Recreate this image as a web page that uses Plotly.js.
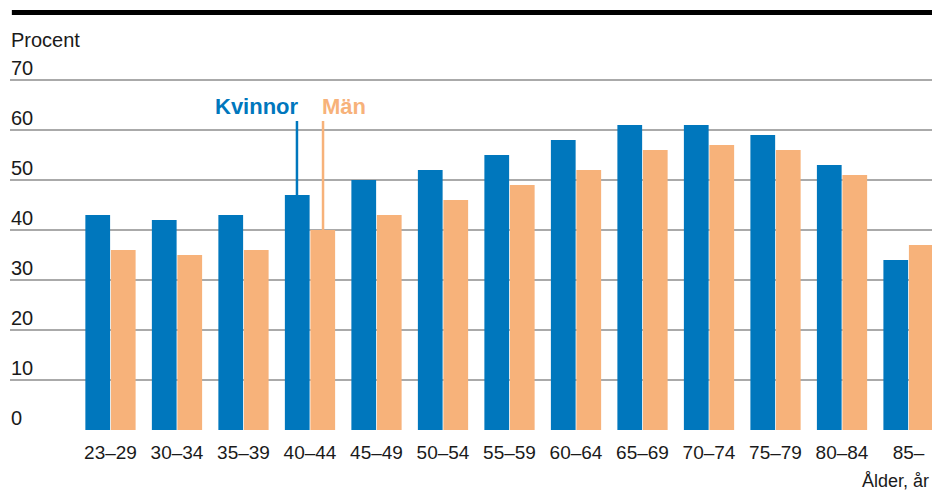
<!DOCTYPE html>
<html><head><meta charset="utf-8">
<script src="https://cdn.plot.ly/plotly-3.0.1.min.js"></script>
<style>body{margin:0;padding:0;background:#fff}#chart{width:932px;height:493px}</style>
</head><body><div id="chart"></div>
<script>
const categories = ["23–29","30–34","35–39","40–44","45–49","50–54","55–59","60–64","65–69","70–74","75–79","80–84","85–"];
const kvinnor = [43,42,43,47,50,52,55,58,61,61,59,53,34];
const man = [36,35,36,40,43,46,49,52,56,57,56,51,37];
const yTicks = [0,10,20,30,40,50,60,70];
const yTickLabels = ["0","10","20","30","40","50","60","70"];
const seriesNames = ["Kvinnor","Män"];
const colors = ["#0077bd","#f7b27a"];
const font = "Liberation Sans, Arial, sans-serif";

const labelIdx = categories.indexOf("40–44");
const off = 0.196;
const idx = categories.map((c,i)=>i);

const traces = [
  {type:"bar", x: idx, y: kvinnor, name: seriesNames[0], marker:{color:colors[0]}, hoverinfo:"skip"},
  {type:"bar", x: idx, y: man, name: seriesNames[1], marker:{color:colors[1]}, hoverinfo:"skip"}
];

const yLabelAnns = yTicks.map((v,i)=>({
  text: yTickLabels[i], xref:"paper", yref:"y", x:0, y:v, xanchor:"left", yanchor:"bottom",
  showarrow:false, xshift:-1, yshift:-1, font:{size:20, color:"#1a1a1a"}
}));

const layout = {
  width: 932, height: 493,
  margin: {l:10, r:0, t:76, b:63},
  paper_bgcolor:"#fff", plot_bgcolor:"#fff",
  showlegend:false,
  barmode:"group", bargap:0.233, bargroupgap:0.03,
  font:{family:font, size:19, color:"#1a1a1a"},
  xaxis:{
    range:[-1.511, 12.353], tickmode:"array", tickvals: idx, ticktext: categories,
    showgrid:false, zeroline:false, showline:false, ticks:"", fixedrange:true,
    ticklabelstandoff:9,
    tickfont:{size:19, color:"#1a1a1a"}
  },
  yaxis:{
    range:[0,70.8], tickmode:"array", tickvals:yTicks, showticklabels:false,
    showgrid:true, gridcolor:"#aaaaaa", gridwidth:1.5,
    zeroline:false, showline:false, ticks:"", fixedrange:true
  },
  shapes:[
    {type:"rect", xref:"paper", yref:"paper", x0:0.002, x1:1, y0:(430-15)/354, y1:(430-10)/354, fillcolor:"#000", line:{width:0}},
    {type:"line", xref:"x", yref:"y", x0:labelIdx-off, x1:labelIdx-off, y0:kvinnor[labelIdx], y1:61.8, line:{color:colors[0], width:2.5}},
    {type:"line", xref:"x", yref:"y", x0:labelIdx+off, x1:labelIdx+off, y0:man[labelIdx], y1:61.8, line:{color:colors[1], width:2.5}}
  ],
  annotations:[
    {text:"Procent", xref:"paper", yref:"paper", x:0, y:(430-40)/354, xanchor:"left", yanchor:"middle", showarrow:false, font:{size:20, color:"#1a1a1a"}, xshift:-1},
    {text:"<b>"+seriesNames[0]+"</b>", xref:"x", yref:"y", x:labelIdx-off, y:64.8, xanchor:"right", yanchor:"middle", showarrow:false, xshift:4, font:{size:22, color:colors[0]}},
    {text:"<b>"+seriesNames[1]+"</b>", xref:"x", yref:"y", x:labelIdx+off, y:64.8, xanchor:"left", yanchor:"middle", showarrow:false, xshift:-3, font:{size:22, color:colors[1]}},
    {text:"Ålder, år", xref:"paper", yref:"paper", x:1, y:(430-481)/354, xanchor:"right", yanchor:"middle", showarrow:false, xshift:-1, font:{size:18, color:"#1a1a1a"}}
  ].concat(yLabelAnns)
};
Plotly.newPlot("chart", traces, layout, {staticPlot:true, displayModeBar:false});
</script></body></html>
